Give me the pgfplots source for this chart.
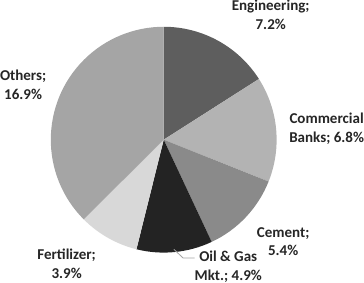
\documentclass[border=0pt]{standalone}
\usepackage{fontspec}
\setmainfont{Carlito}
\usepackage{pgfplots}
\usepackage{pgfplotstable}
\pgfplotsset{compat=1.18}
\definecolor{c0}{HTML}{5E5E5E}
\definecolor{c1}{HTML}{B3B3B3}
\definecolor{c2}{HTML}{8A8A8A}
\definecolor{c3}{HTML}{232323}
\definecolor{c4}{HTML}{D8D8D8}
\definecolor{c5}{HTML}{A5A5A5}
\definecolor{txt}{HTML}{262626}
\pgfplotstableread{
sector value
Engineering 7.2
CommercialBanks 6.8
Cement 5.4
OilGasMkt 4.9
Fertilizer 3.9
Others 16.9
}\piedata
\begin{document}
\begin{tikzpicture}
\def\total{0}
\foreach \i in {0,...,5}{%
  \pgfplotstablegetelem{\i}{value}\of\piedata
  \pgfmathsetmacro\t{\total+\pgfplotsretval}%
  \xdef\total{\t}%
}
\def\cum{0}
\foreach \i in {0,...,5}{%
  \pgfplotstablegetelem{\i}{value}\of\piedata
  \pgfmathsetmacro\s{90-360*\cum/\total}%
  \pgfmathsetmacro\newcum{\cum+\pgfplotsretval}%
  \pgfmathsetmacro\e{90-360*\newcum/\total}%
  \expandafter\xdef\csname sa\i\endcsname{\s}%
  \expandafter\xdef\csname ea\i\endcsname{\e}%
  \xdef\cum{\newcum}%
}
\begin{axis}[
  hide axis, scale only axis, width=364bp, height=290bp,
  xmin=0, xmax=364, ymin=0, ymax=290, clip=false,
  anchor=origin, at={(0,0)}
]
\pgfplotsinvokeforeach{0,...,5}{%
  \fill[c#1] (axis cs:166.7,143.3) -- +(\csname sa#1\endcsname:109bp)
    arc[start angle=\csname sa#1\endcsname, end angle=\csname ea#1\endcsname, radius=109bp] -- cycle;
}
\draw[c5, line width=0.8pt] (axis cs:176.5,37.5) -- (axis cs:185.5,29) -- (axis cs:196.5,29);
\begin{scope}[every node/.style={align=center, text=txt, font=\fontsize{14.5bp}{18bp}\selectfont\bfseries, inner sep=0pt}]
\node at (axis cs:270,264) {Engineering;\\7.2\%};
\node at (axis cs:324,154) {Commercial\\Banks; 6.8\%};
\node at (axis cs:282,45) {Cement;\\5.4\%};
\node at (axis cs:229,20.5) {Oil \& Gas\\Mkt.; 4.9\%};
\node at (axis cs:73,23.5) {Fertilizer;\\3.9\%};
\node at (axis cs:31,196) {Others;\\16.9\%};
\end{scope}
\end{axis}
\end{tikzpicture}
\end{document}
